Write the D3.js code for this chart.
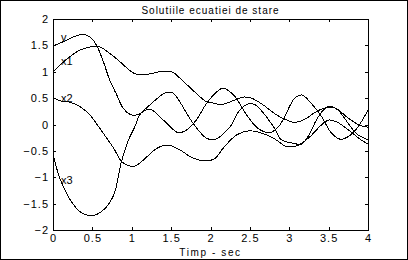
<!DOCTYPE html>
<html>
<head>
<meta charset="utf-8">
<script src="https://cdn.jsdelivr.net/npm/d3@7"></script>
<style>
  body { margin: 0; background: #fff; }
  text { font-family: "Liberation Sans", Arial, sans-serif; fill: #000; }
</style>
</head>
<body>
<div id="chart"></div>
<script>
// Data: [time, value]
var seriesV = [
  [0, 1.49], [0.13, 1.57], [0.26, 1.66], [0.37, 1.71], [0.47, 1.66], [0.55, 1.51],
  [0.64, 1.19], [0.72, 0.84], [0.81, 0.56], [0.89, 0.31], [0.98, 0.19], [1.06, 0.18],
  [1.23, 0.29], [1.40, 0.085], [1.59, -0.155], [1.70, -0.10], [1.82, 0.085], [1.95, 0.40],
  [2.06, 0.59], [2.16, 0.69], [2.31, 0.53], [2.42, 0.27], [2.54, 0.02], [2.63, -0.10],
  [2.76, -0.155], [2.88, -0.01], [3.07, 0.50], [3.16, 0.56], [3.28, 0.40], [3.41, 0.15],
  [3.54, -0.17], [3.65, -0.28], [3.75, -0.23], [3.86, -0.07], [4.0, 0.27]
];
var seriesX1 = [
  [0, 1.0], [0.09, 1.13], [0.22, 1.29], [0.34, 1.41], [0.47, 1.47], [0.58, 1.48],
  [0.72, 1.35], [0.85, 1.19], [0.98, 1.02], [1.06, 0.95], [1.19, 0.95], [1.36, 1.0],
  [1.51, 1.0], [1.61, 0.88], [1.82, 0.59], [1.95, 0.43], [2.06, 0.40], [2.12, 0.37],
  [2.25, 0.43], [2.42, 0.52], [2.52, 0.50], [2.67, 0.37], [2.84, 0.18], [2.97, 0.085],
  [3.07, 0.04], [3.2, 0.10], [3.35, 0.25], [3.5, 0.33], [3.6, 0.30], [3.75, 0.12],
  [3.9, -0.02], [4.0, -0.05]
];
var seriesX2 = [
  [0, 0.51], [0.09, 0.45], [0.22, 0.42], [0.34, 0.34], [0.47, 0.18], [0.55, 0.02],
  [0.64, -0.17], [0.77, -0.45], [0.87, -0.70], [0.94, -0.77], [1.04, -0.79], [1.15, -0.67],
  [1.32, -0.45], [1.46, -0.39], [1.61, -0.48], [1.78, -0.64], [1.95, -0.69], [2.06, -0.64],
  [2.16, -0.45], [2.33, -0.20], [2.5, -0.12], [2.63, -0.155], [2.80, -0.26], [2.97, -0.42],
  [3.1, -0.40], [3.25, -0.25], [3.4, -0.02], [3.5, 0.085], [3.6, 0.05], [3.75, -0.10],
  [3.9, -0.28], [4.0, -0.37]
];
var seriesX3 = [
  [0, -0.55], [0.05, -0.85], [0.1, -1.07], [0.22, -1.43], [0.34, -1.65], [0.49, -1.73],
  [0.64, -1.62], [0.77, -1.34], [0.87, -0.70], [0.96, -0.29], [1.04, -0.04], [1.10, 0.18],
  [1.23, 0.37], [1.44, 0.61], [1.53, 0.59], [1.61, 0.43], [1.78, 0.02], [1.95, -0.26],
  [2.06, -0.28], [2.25, -0.04], [2.37, 0.27], [2.48, 0.39], [2.57, 0.37], [2.80, -0.04],
  [2.90, -0.29], [3.07, -0.36], [3.15, -0.38], [3.25, -0.20], [3.35, 0.10], [3.45, 0.30],
  [3.52, 0.35], [3.62, 0.27], [3.75, 0.02], [3.85, -0.17], [4.0, -0.29]
];
var seriesNames = ["v", "x1", "x2", "x3"];
var xTicks = [0, 0.5, 1, 1.5, 2, 2.5, 3, 3.5, 4];
var yTicks = [-2, -1.5, -1, -0.5, 0, 0.5, 1, 1.5, 2];
var title = "Solutiile ecuatiei de stare";
var xLabel = "Timp - sec";

var W = 408, H = 260;
var margin = { top: 19, right: 40, bottom: 30, left: 53 };
var width = W - margin.left - margin.right;   // 315
var height = H - margin.top - margin.bottom;  // 211

var svg = d3.select("#chart").append("svg")
  .attr("width", W)
  .attr("height", H);

// outer frame
svg.append("rect")
  .attr("x", 0.5).attr("y", 0.5)
  .attr("width", W - 1.5).attr("height", H - 1.5)
  .attr("fill", "none").attr("stroke", "#000")
  .attr("shape-rendering", "crispEdges");

var xScale = d3.scaleLinear().domain([0, 4]).range([0, width]);
var yScale = d3.scaleLinear().domain([-2, 2]).range([height, 0]);

var g = svg.append("g")
  .attr("transform", "translate(" + margin.left + "," + margin.top + ")");

// axes box with inward ticks
function styleAxis(sel) {
  sel.selectAll("path, line").attr("stroke", "#000").attr("shape-rendering", "crispEdges");
  sel.selectAll("text")
    .style("font-size", "11px")
    .style("letter-spacing", "1px")
    .attr("fill", "#000");
}
var fmt = function(d) { return d3.format("")(d); };

g.append("g")
  .attr("transform", "translate(0," + height + ")")
  .call(d3.axisBottom(xScale).tickValues(xTicks).tickFormat(fmt).tickSizeInner(-3).tickSizeOuter(0).tickPadding(4))
  .call(styleAxis);
g.append("g")
  .call(d3.axisTop(xScale).tickValues(xTicks).tickFormat("").tickSizeInner(-3).tickSizeOuter(0))
  .call(styleAxis);
g.append("g")
  .call(d3.axisLeft(yScale).tickValues(yTicks).tickFormat(fmt).tickSizeInner(-3).tickSizeOuter(0).tickPadding(4))
  .call(styleAxis);
g.append("g")
  .attr("transform", "translate(" + width + ",0)")
  .call(d3.axisRight(yScale).tickValues(yTicks).tickFormat("").tickSizeInner(-3).tickSizeOuter(0))
  .call(styleAxis);

g.selectAll(".domain").attr("fill", "none");

// curves
var line = d3.line()
  .x(function(d) { return xScale(d[0]); })
  .y(function(d) { return yScale(d[1]); })
  .curve(d3.curveCatmullRom.alpha(0.5));

var allSeries = [seriesV, seriesX1, seriesX2, seriesX3];
g.selectAll("path.curve")
  .data(allSeries)
  .enter()
  .append("path")
  .attr("class", "curve")
  .attr("d", line)
  .attr("fill", "none")
  .attr("stroke", "#000")
  .attr("stroke-width", 1)
  .attr("shape-rendering", "crispEdges");

// series labels, placed just right of each curve start
var labelPos = [[0.1, 1.66], [0.1, 1.21], [0.1, 0.5], [0.1, -1.05]];
g.selectAll("text.lbl")
  .data(seriesNames)
  .enter()
  .append("text")
  .attr("class", "lbl")
  .attr("x", function(d, i) { return xScale(labelPos[i][0]); })
  .attr("y", function(d, i) { return yScale(labelPos[i][1]); })
  .attr("dy", "0.35em")
  .style("font-size", "11px")
  .text(function(d) { return d; });

// title and x label
svg.append("text")
  .attr("x", margin.left + width / 2)
  .attr("y", 14)
  .attr("text-anchor", "middle")
  .style("font-size", "10px")
  .style("letter-spacing", "1px")
  .text(title);

svg.append("text")
  .attr("x", margin.left + width / 2)
  .attr("y", 256)
  .attr("text-anchor", "middle")
  .style("font-size", "10px")
  .style("letter-spacing", "1.6px")
  .text(xLabel);
</script>
</body>
</html>
